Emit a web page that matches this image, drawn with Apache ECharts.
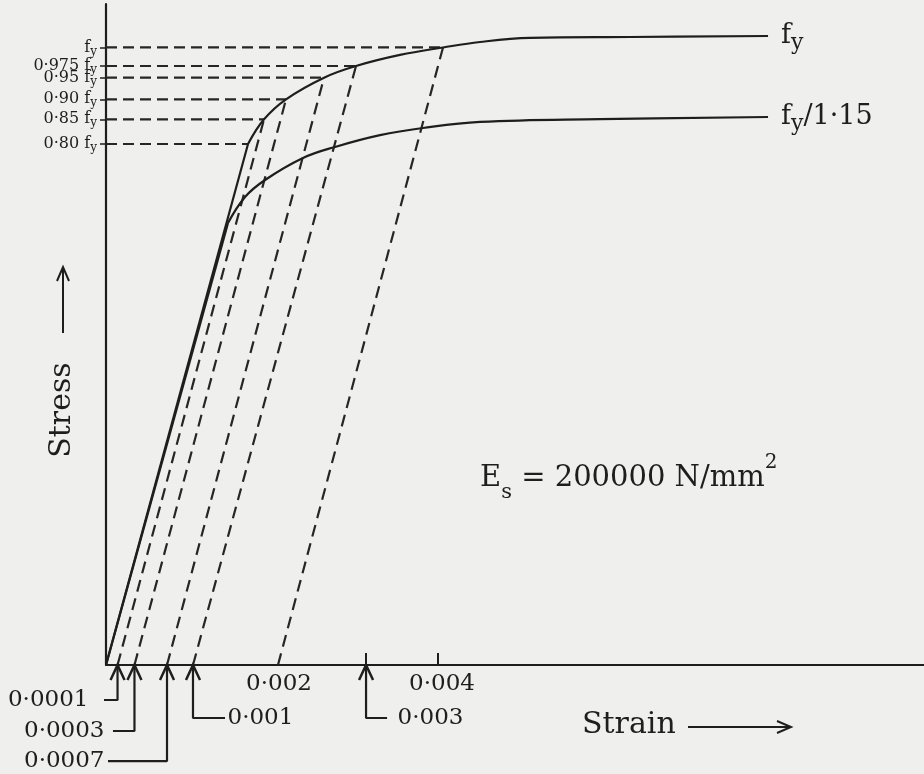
<!DOCTYPE html>
<html><head><meta charset="utf-8">
<script src="https://cdn.jsdelivr.net/npm/echarts@6/dist/echarts.min.js"></script>
<style>html,body{margin:0;padding:0;background:#efefed}#c{width:924px;height:774px}</style>
</head><body><div id="c"></div>
<script>
// ---- data (strain, stress as fraction of fy as drawn) ----
const yLevels = [1.0, 0.970, 0.9511, 0.9161, 0.8837, 0.8437];
const yLevelNames = ['', '0·975 ', '0·95 ', '0·90 ', '0·85 ', '0·80 '];
const yLevelEndX = [0.00406, 0.003012, 0.002627, 0.002169, 0.001904, 0.001711];

const fyElastic = [[0, 0], [0.001711, 0.8437]];
const fyCurve = [[0.001711, 0.8437], [0.001904, 0.8837], [0.002169, 0.9161],
  [0.002627, 0.9511], [0.003012, 0.970],
  [0.003542, 0.9879], [0.00406, 1.0], [0.004506, 1.0089], [0.005108, 1.0154], [0.006313, 1.017],
  [0.007976, 1.0186]];
const designElastic = [[0, 0], [0.00147, 0.7158]];
const designCurve = [[0.00147, 0.7158], [0.001675, 0.7579], [0.001916, 0.7854], [0.002373, 0.821],
  [0.002759, 0.8389], [0.003301, 0.858], [0.003819, 0.8696], [0.004506, 0.8794], [0.005952, 0.884],
  [0.007976, 0.8874]];

// offset (dashed) lines: start on strain axis, end on fy curve
const offsetStartX = [0.000139, 0.000343, 0.000735, 0.001048, 0.002072];
const offsetEndX = [0.001904, 0.002169, 0.002627, 0.003012, 0.00406];
const offsetEndY = [0.8837, 0.9161, 0.9511, 0.970, 1.0];

// x axis ticks / labels
const xTickValues = [0.003133, 0.004];
const xLabelValues = [0.002084, 0.004048];
const xLabelNames = ['0·002', '0·004'];

// leader annotations below the strain axis
const leaderNames = ['0·0001', '0·0003', '0·0007', '0·001', '0·003'];
const leaderArrowX = [0.000139, 0.000343, 0.000735, 0.001048, 0.003133];
const leaderY = [-0.0567, -0.1069, -0.1555, -0.0858, -0.0858];
const leaderTextX = [-0.000157, 0.000084, 0.000024, 0.001434, 0.003386];
const leaderSide = ['left', 'left', 'left', 'right', 'right'];
const leaderGap = [4, 8, 3, 2, 10];

const INK = '#1e1e1e';
const SERIF = '"DejaVu Serif", "Liberation Serif", serif';

const series = [];
const solid = { color: INK, width: 2.2 };
series.push({ type: 'line', data: fyElastic, symbol: 'none', lineStyle: solid, z: 4 });
series.push({ type: 'line', data: designElastic, symbol: 'none', lineStyle: solid, z: 4 });
const endRich = {
  f: { fontFamily: SERIF, fontSize: 27, lineHeight: 36, verticalAlign: 'middle', color: INK },
  s: { fontFamily: SERIF, fontSize: 22, lineHeight: 22, verticalAlign: 'bottom', color: INK }
};
series.push({
  type: 'line', data: fyCurve, symbol: 'none', smooth: 0.4, lineStyle: solid, z: 4,
  endLabel: { show: true, distance: 13, formatter: '{f|f}{s|y}', color: INK, rich: endRich }
});
series.push({
  type: 'line', data: designCurve, symbol: 'none', smooth: 0.4, lineStyle: solid, z: 4,
  endLabel: { show: true, distance: 13, formatter: '{f|f}{s|y}{f|/1·15}', color: INK, rich: endRich }
});
yLevels.forEach(function (lv, i) {
  series.push({ type: 'line', data: [[0, lv], [yLevelEndX[i], lv]], symbol: 'none', z: 3,
    lineStyle: { color: '#262626', width: 2.2, type: [11, 6] } });
});
offsetStartX.forEach(function (x0, i) {
  series.push({ type: 'line', data: [[x0, 0], [offsetEndX[i], offsetEndY[i]]], symbol: 'none', z: 3,
    lineStyle: { color: '#262626', width: 2.2, type: [12, 7] } });
});
const arrowSym = 'path://M0,14L7,0L14,14';
leaderNames.forEach(function (name, i) {
  const lab = { show: true, position: leaderSide[i], distance: leaderGap[i], formatter: name,
    fontFamily: SERIF, fontSize: 23, color: INK };
  const arrowPt = { value: [leaderArrowX[i], 0], symbol: arrowSym, symbolSize: [14, 15], symbolOffset: [0, '50%'] };
  const corner = { value: [leaderArrowX[i], leaderY[i]], symbol: 'none' };
  const textPt = { value: [leaderTextX[i], leaderY[i]], symbol: 'circle', symbolSize: 1,
    itemStyle: { color: 'rgba(0,0,0,0)', borderWidth: 0 }, label: lab };
  const data = leaderSide[i] === 'left' ? [textPt, corner, arrowPt] : [arrowPt, corner, textPt];
  series.push({ type: 'line', data: data, clip: false, z: 5,
    lineStyle: { color: INK, width: 2.2 },
    itemStyle: { color: 'rgba(0,0,0,0)', borderColor: INK, borderWidth: 2.6 } });
});

const chart = echarts.init(document.getElementById('c'));
chart.setOption({
  backgroundColor: '#efefed',
  animation: false,
  grid: { left: 106, right: 0, top: 4, bottom: 109, containLabel: false, outerBoundsMode: 'none' },
  xAxis: {
    type: 'value', min: 0, max: 0.009855, splitLine: { show: false },
    axisLine: { show: true, lineStyle: { color: INK, width: 2.2 } },
    axisTick: { show: true, inside: true, length: 12, customValues: xTickValues, lineStyle: { color: INK, width: 2 } },
    axisLabel: { show: true, customValues: xLabelValues, margin: 8, fontFamily: SERIF, fontSize: 23, color: INK,
      showMinLabel: true, showMaxLabel: true,
      formatter: function (v) { const i = xLabelValues.findIndex(function (a) { return Math.abs(a - v) < 1e-9; }); return i < 0 ? '' : xLabelNames[i]; } }
  },
  yAxis: {
    type: 'value', min: 0, max: 1.0704, splitLine: { show: false },
    axisLine: { show: true, lineStyle: { color: INK, width: 2.2 } },
    axisTick: { show: true, length: 6, customValues: yLevels, lineStyle: { color: INK, width: 1.5 } },
    axisLabel: { show: true, customValues: yLevels, margin: 9, showMinLabel: true, showMaxLabel: true, hideOverlap: false,
      formatter: function (v) {
        const i = yLevels.findIndex(function (a) { return Math.abs(a - v) < 1e-9; });
        if (i < 0) return '';
        return (yLevelNames[i] ? '{n|' + yLevelNames[i] + '}' : '') + '{n|f}{s|y}';
      },
      rich: { n: { fontFamily: SERIF, fontSize: 16, lineHeight: 20, verticalAlign: 'middle', color: INK },
              s: { fontFamily: SERIF, fontSize: 12, lineHeight: 12, verticalAlign: 'bottom', color: INK } } }
  },
  series: series,
  graphic: [
    { type: 'text', x: 582, y: 725, style: { text: 'Strain', fontFamily: SERIF, fontSize: 30, fill: INK, verticalAlign: 'middle', align: 'left' } },
    { type: 'line', shape: { x1: 688, y1: 727, x2: 790, y2: 727 }, style: { stroke: INK, lineWidth: 2 } },
    { type: 'polyline', shape: { points: [[777, 721], [791, 727], [777, 733]] }, style: { stroke: INK, lineWidth: 2, fill: null } },
    { type: 'text', x: 62, y: 410, rotation: Math.PI / 2, style: { text: 'Stress', fontFamily: SERIF, fontSize: 30, fill: INK, verticalAlign: 'middle', align: 'center' } },
    { type: 'line', shape: { x1: 63, y1: 333, x2: 63, y2: 268 }, style: { stroke: INK, lineWidth: 2 } },
    { type: 'polyline', shape: { points: [[57, 281], [63, 267], [69, 281]] }, style: { stroke: INK, lineWidth: 2, fill: null } },
    { type: 'text', x: 480, y: 478, style: { text: '{e|E}{s|s}{e| = 200000 N/mm}{p|2}', verticalAlign: 'middle', align: 'left',
      rich: { e: { fontFamily: SERIF, fontSize: 29, lineHeight: 50, verticalAlign: 'middle', fill: INK, color: INK },
              s: { fontFamily: SERIF, fontSize: 21, lineHeight: 22, verticalAlign: 'bottom', fill: INK, color: INK },
              p: { fontFamily: SERIF, fontSize: 20, lineHeight: 20, verticalAlign: 'top', fill: INK, color: INK } } } }
  ]
});
</script></body></html>
